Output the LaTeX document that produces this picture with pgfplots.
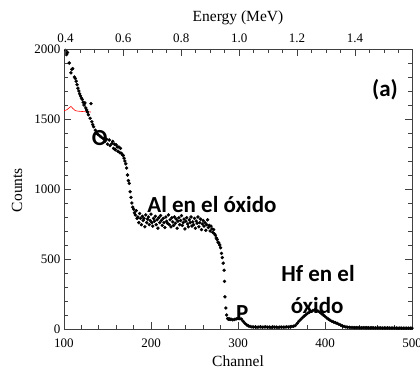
\documentclass[border=0pt]{standalone}
\usepackage{fontspec}
\setmainfont{Liberation Serif}
\newfontfamily\calib{Carlito}
\usepackage{pgfplots}
\pgfplotsset{compat=1.18}
\usepackage{pgfplotstable}
\pgfplotstableread{
ch cnt
102 1990
103 1960
104 1975
106 1900
108 1830
109 1855
110 1860
112 1800
113 1790
114 1770
115 1745
116 1720
117 1700
118 1680
119 1665
120 1650
121 1640
122 1620
123 1600
124 1615
125 1580
126 1565
127 1550
128 1530
130 1505
131 1610
132 1480
133 1460
134 1445
136 1420
137 1400
139 1390
141 1380
143 1370
145 1360
147 1340
149 1355
150 1320
152 1350
153 1310
155 1325
156 1340
157 1290
158 1320
159 1280
160 1315
161 1300
162 1270
163 1300
164 1260
165 1290
166 1255
167 1245
168 1240
169 1220
170 1200
171 1180
172 1150
173 1100
174 1060
175 1040
176 980
177 940
178 900
179 870
180 855
181 830
182 815
183 845
184 790
185 800
186 760
187 825
188 790
189 745
190 805
191 775
192 790
193 730
194 815
195 760
196 785
197 800
198 745
199 775
200 820
201 760
202 735
203 790
204 770
205 805
206 745
207 780
208 720
209 795
210 760
211 810
212 775
213 740
214 790
215 760
216 725
217 800
218 770
219 755
220 815
221 745
222 780
223 730
224 795
225 765
226 740
227 800
228 755
229 785
230 720
231 770
232 795
233 745
234 775
235 810
236 740
237 760
238 785
239 715
240 770
241 795
242 750
243 730
244 780
245 760
246 800
247 735
248 765
249 745
250 790
251 720
252 770
253 755
254 800
255 730
256 760
257 785
258 710
259 750
260 775
261 735
262 760
263 705
264 745
265 780
266 725
267 740
268 700
269 735
270 715
271 690
272 710
273 680
274 670
275 650
276 640
277 620
278 615
279 600
280 580
281 540
282 510
283 470
284 420
284.5 340
285 230
286 150
287 100
288 75
289 70
290 72
291 68
292 70
294 66
296 68
298 72
300 75
302 74
304 70
306 55
308 40
310 30
312 22
314 18
316 15
318 14
320 15
322 13
324 14
326 15
328 13
330 14
332 15
334 13
336 14
338 12
340 14
342 13
344 14
346 12
348 14
350 13
352 14
354 13
356 15
358 14
360 16
362 18
364 20
366 25
368 40
370 55
372 68
374 80
376 92
378 102
380 112
382 120
384 126
386 132
388 136
390 134
392 128
394 120
396 110
398 100
400 90
402 80
404 70
406 62
408 55
410 50
412 45
414 40
416 34
418 28
420 22
422 18
424 15
426 13
428 12
430 11
432 11
434 10
436 10
438 10
440 9
442 9
444 10
446 9
448 9
450 9
452 8
454 9
456 8
458 8
460 8
462 8
464 8
466 7
468 8
470 7
472 8
474 7
476 7
478 7
480 7
482 7
484 6
486 7
488 6
490 6
492 6
494 6
496 6
498 6
500 6
}\spectrum
\begin{document}
\begin{tikzpicture}
\useasboundingbox (0,0) rectangle (420pt,370pt);
\begin{axis}[
  at={(64pt,41pt)}, anchor=south west,
  scale only axis, width=348pt, height=280pt,
  xmin=100, xmax=500, ymin=0, ymax=2000,
  xtick={100,200,...,500}, minor x tick num=4,
  ytick={0,500,...,2000}, minor y tick num=4,
  xtick pos=left, ytick pos=both, yticklabel pos=left,
  tick align=inside,
  major tick length=7pt, minor tick length=4pt,
  axis line style={black!75, line width=0.9pt},
  every tick/.style={black!75, line width=0.8pt},
  /pgf/number format/assume math mode=true,
  /pgf/number format/set thousands separator={},
  tick label style={font=\fontsize{13}{13}\selectfont},
  xticklabel style={yshift=-6pt},
  xlabel={Channel}, ylabel={Counts},
  xlabel style={font=\fontsize{15.5}{15.5}\selectfont, at={(axis description cs:0.5,-0.114)}, anchor=center},
  ylabel style={font=\fontsize{15.5}{15.5}\selectfont, at={(axis description cs:-0.135,0.496)}, anchor=center},
  clip=false,
]
\addplot[only marks, mark=*, mark size=1.5pt, black] table[x=ch,y=cnt] {\spectrum};
\addplot[red, line width=0.6pt, smooth] coordinates {(100,1560) (103,1565) (106,1580) (108,1590) (110,1576) (113,1560) (118,1555) (125,1552) (131,1550)};
\node[font=\calib\bfseries\fontsize{23}{23}\selectfont] at (axis cs:469,1707) {(a)};
\node[font=\calib\bfseries\fontsize{23}{23}\selectfont] at (axis cs:141,1364) {O};
\node[font=\calib\bfseries\fontsize{23}{23}\selectfont] at (axis cs:270,886) {Al en el óxido};
\node[font=\calib\bfseries\fontsize{23}{23}\selectfont] at (axis cs:392,393) {Hf en el};
\node[font=\calib\bfseries\fontsize{23}{23}\selectfont] at (axis cs:391,168) {óxido};
\node[font=\calib\bfseries\fontsize{23}{23}\selectfont] at (axis cs:305,114) {P};
\end{axis}
\begin{axis}[
  at={(64pt,41pt)}, anchor=south west,
  scale only axis, width=348pt, height=280pt,
  xmin=0.395, xmax=1.597, ymin=0, ymax=1,
  axis x line*=top, axis y line=none,
  xtick={0.4,0.6,0.8,1.0,1.2,1.4},
  minor xtick={0.45,0.5,0.55,0.65,0.7,0.75,0.85,0.9,0.95,1.05,1.1,1.15,1.25,1.3,1.35,1.45,1.5,1.55},
  tick align=inside,
  major tick length=7pt, minor tick length=4pt,
  axis line style={black!75, line width=0.9pt},
  every tick/.style={black!75, line width=0.8pt},
  /pgf/number format/assume math mode=true,
  xticklabel={\pgfmathprintnumber[fixed,fixed zerofill,precision=1]{\tick}},
  tick label style={font=\fontsize{13}{13}\selectfont},
  xticklabel style={yshift=3pt},
  xlabel={Energy (MeV)},
  xlabel style={font=\fontsize{15.5}{15.5}\selectfont, at={(axis description cs:0.5,1.11)}, anchor=center},
]
\addplot[draw=none] coordinates {(0.5,0.5)};
\end{axis}
\end{tikzpicture}
\end{document}
